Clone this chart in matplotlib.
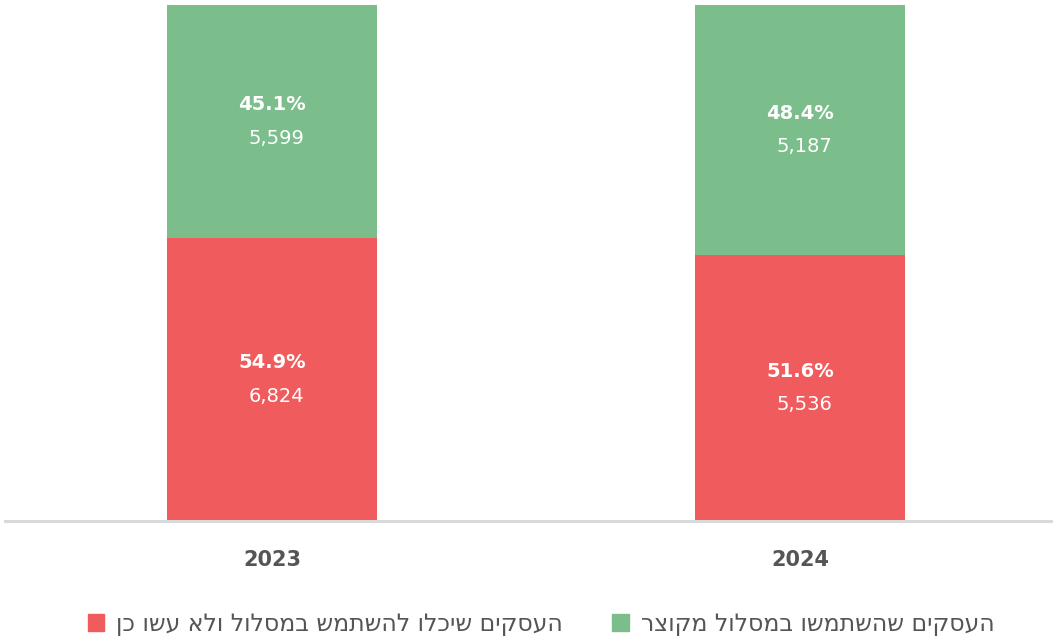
import matplotlib.pyplot as plt
from matplotlib.patches import Patch

years = ["2023", "2024"]
used_pct = [45.1, 48.4]
used_count = [5599, 5187]
missed_pct = [54.9, 51.6]
missed_count = [6824, 5536]

used_label = "העסקים שהשתמשו במסלול מקוצר"
missed_label = "העסקים שיכלו להשתמש במסלול ולא עשו כן"

GREEN = "#7bbd8b"
RED = "#f05c5e"


def rtl(s):
    # matplotlib has no bidi support, flip hebrew by hand
    return s[::-1]


plt.rcParams["font.family"] = ["DejaVu Sans"]

fig = plt.figure(figsize=(10.53, 6.37), dpi=100)
ax = fig.add_axes([5 / 1053, 116 / 637, 1048 / 1053, 516 / 637])

x = list(range(len(years)))
w = 0.398
ax.bar(x, missed_pct, width=w, color=RED, zorder=2)
ax.bar(x, used_pct, width=w, bottom=missed_pct, color=GREEN, zorder=2)

for i in x:
    for mid, pct, cnt in [(missed_pct[i] / 2, missed_pct[i], missed_count[i]),
                          (missed_pct[i] + used_pct[i] / 2, used_pct[i], used_count[i])]:
        ax.annotate(f"{pct:.1f}%", (i, mid), xytext=(0, 12), textcoords="offset points",
                    ha="center", va="center", color="white", fontsize=14, fontweight="bold")
        ax.annotate(f"{cnt:,}", (i + 0.008, mid), xytext=(0, -12), textcoords="offset points",
                    ha="center", va="center", color="white", fontsize=14)

ax.set_xlim(-0.506, 1.479)
ax.set_ylim(0, 100)
ax.set_yticks([])
ax.set_xticks(x)
ax.set_xticklabels(years, fontsize=15, fontweight="heavy", color="#555555")
ax.tick_params(axis="x", length=0, pad=21)
for s in ["top", "left", "right"]:
    ax.spines[s].set_visible(False)
ax.spines["bottom"].set_color("#d9d9d9")
ax.spines["bottom"].set_linewidth(2.2)

handles = [Patch(color=RED), Patch(color=GREEN)]
labels = [rtl(missed_label), rtl(used_label)]
fig.legend(handles, labels, ncol=2, loc="center", bbox_to_anchor=(541 / 1053, 1 - 624 / 637),
           frameon=False, fontsize=17, labelcolor="#555555", handlelength=0.7, handleheight=0.7,
           handletextpad=0.5, columnspacing=2.1)

fig.savefig("out.png", dpi=100)
